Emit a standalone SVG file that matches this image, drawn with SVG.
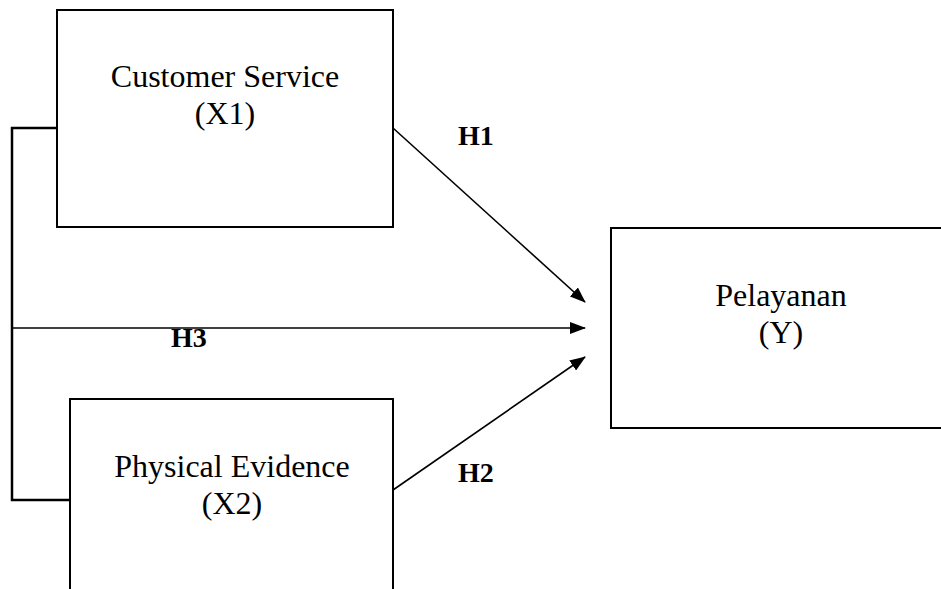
<svg xmlns="http://www.w3.org/2000/svg" width="941" height="589" viewBox="0 0 941 589">
<style>
.box{fill:#fff;stroke:#000;stroke-width:2}
.lbl{font-family:"Liberation Serif","Times New Roman",serif;font-size:32px;fill:#000;text-anchor:middle}
.h{font-family:"Liberation Serif","Times New Roman",serif;font-size:28px;font-weight:bold;fill:#000}
.ln{fill:none;stroke:#000;stroke-width:1.6}
.br{fill:none;stroke:#000;stroke-width:2.5}
</style>
<defs>
<marker id="arr" markerWidth="16" markerHeight="12" refX="15" refY="6" orient="auto" markerUnits="userSpaceOnUse">
<path d="M0,0 L16,6 L0,12 Z" fill="#000"/>
</marker>
</defs>
<rect width="941" height="589" fill="#fff"/>
<g id="connectors">
<polyline class="br" points="57,128 12,128 12,500 70,500"/>
<line class="ln" x1="12" y1="328" x2="585" y2="328" marker-end="url(#arr)"/>
<line class="ln" x1="393" y1="128" x2="585" y2="302" marker-end="url(#arr)"/>
<line class="ln" x1="393" y1="490" x2="585" y2="357" marker-end="url(#arr)"/>
<text class="h" x="458" y="145">H1</text>
<text class="h" x="171" y="347">H3</text>
<text class="h" x="458" y="482">H2</text>
</g>
<g id="x1">
<rect class="box" x="57" y="10" width="336" height="217"/>
<text class="lbl" x="225" y="87">Customer Service</text>
<text class="lbl" x="225" y="124">(X1)</text>
</g>
<g id="x2">
<rect class="box" x="70" y="399" width="323" height="200"/>
<text class="lbl" x="232" y="477">Physical Evidence</text>
<text class="lbl" x="232" y="514">(X2)</text>
</g>
<g id="y">
<rect class="box" x="611" y="228" width="340" height="200"/>
<text class="lbl" x="781" y="306">Pelayanan</text>
<text class="lbl" x="781" y="343">(Y)</text>
</g>
</svg>
